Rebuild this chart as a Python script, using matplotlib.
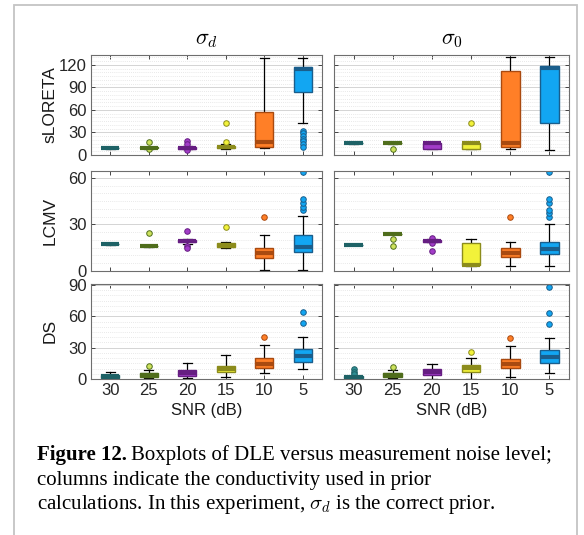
import matplotlib
matplotlib.use("Agg")
import matplotlib.pyplot as plt
from matplotlib.patches import Rectangle
from matplotlib.ticker import MultipleLocator

W, H = 584, 535

SNR_LABELS = ["30", "25", "20", "15", "10", "5"]
FACE = ["#2f8d92", "#79a332", "#a23cc8", "#f2f23a", "#ff7f27", "#12a6f2"]
EDGE = ["#1e6266", "#4f6d1c", "#661e82", "#8c8c1c", "#a94a10", "#1a5e8c"]
FLIER_FACE = ["#2f8d92", "#cde25c", "#a23cc8", "#f2f23a", "#ff7f27", "#12a6f2"]

# box statistics (DLE, mm)
SLORETA_D = dict(
    lo=[8.5, 8.5, 8, 8.5, 9, 43],
    q1=[9, 9, 8, 9, 10, 84],
    med=[9, 9.5, 9.5, 10, 17, 115],
    q3=[9.5, 10, 11, 12, 57, 117.5],
    hi=[10, 11, 12, 14, 129, 129],
    out=[[], [17, 7.5], [18, 15, 6.5], [17, 43], [], [32.4, 28.9, 25.3, 21.8, 18.2, 14.7, 11.1]],
)
SLORETA_0 = dict(
    lo=[15, 15, 7.5, 7.5, 8, 6],
    q1=[15.5, 15.5, 7.5, 8, 10, 42],
    med=[15.5, 15.5, 15.5, 15.5, 15.5, 116],
    q3=[16, 16, 16, 16, 112, 118],
    hi=[16, 16, 16.5, 16.5, 130, 130],
    out=[[], [7.5], [], [42], [], []],
)
LCMV_D = dict(
    lo=[17, 15.8, 17.5, 15, 0.5, 0.5],
    q1=[17.2, 16, 18.5, 15.5, 8.6, 12.5],
    med=[17.4, 16.1, 19.5, 16, 11.4, 15.3],
    q3=[17.6, 16.2, 20, 18.3, 14.6, 23],
    hi=[17.8, 16.4, 20.5, 18.5, 23, 35.5],
    out=[[], [24.3], [26, 16, 15], [28.6], [35], [39.4, 41.5, 44, 46.2, 63.7]],
)
LCMV_0 = dict(
    lo=[16.6, 23.6, 18.5, 3.5, 3.2, 3.2],
    q1=[16.7, 23.8, 19, 3.9, 8.8, 11],
    med=[16.8, 23.9, 19.6, 4, 11.8, 14.4],
    q3=[16.9, 24, 20.3, 18.3, 14.6, 18.9],
    hi=[17, 24.2, 20.8, 20.6, 18.5, 30],
    out=[[], [20.6, 16.1], [21, 17.8, 13], [], [34.6], [35, 37.2, 39.4, 43.7, 46.2, 63.7]],
)
DS_D = dict(
    lo=[0, 0.5, 0.6, 1.6, 5.4, 9.3],
    q1=[0.6, 2.2, 2.9, 7, 10.2, 16.6],
    med=[2.5, 4, 6, 9.9, 14, 22],
    q3=[3.8, 5.4, 8.6, 12.8, 19.8, 28.4],
    hi=[6.4, 8.6, 15, 23, 32.6, 40.5],
    out=[[], [12.5], [], [], [40.5], [53.3, 64.5]],
)
DS_0 = dict(
    lo=[0.8, 0.5, 0.2, 0.2, 2.2, 5.4],
    q1=[1, 2.2, 3.5, 7, 10.2, 15.6],
    med=[2, 4, 6.4, 10.2, 14, 20.8],
    q3=[2.8, 5.4, 9.3, 13.4, 18.8, 27.8],
    hi=[3.2, 8.6, 14.4, 20.4, 31.6, 39.6],
    out=[[9.3, 6.4, 4.5, 0.2], [11.8], [], [26.2], [39], [52.4, 63, 88.4]],
)

ROWS = [
    ("sLORETA", SLORETA_D, SLORETA_0, 133.3, [0, 30, 60, 90, 120], (55, 155)),
    ("LCMV", LCMV_D, LCMV_0, 64.5, [0, 30, 60], (171, 271)),
    ("DS", DS_D, DS_0, 91.4, [0, 30, 60, 90], (283.5, 379)),
]
COLS = [(91, 322), (334, 569)]


def to_stats(d):
    return [
        dict(whislo=d["lo"][i], q1=d["q1"][i], med=d["med"][i], q3=d["q3"][i],
             whishi=d["hi"][i], fliers=d["out"][i])
        for i in range(len(SNR_LABELS))
    ]


def draw_panel(ax, data, ymax, yticks, show_y, show_x):
    res = ax.bxp(
        to_stats(data), positions=range(1, 7), widths=0.48, patch_artist=True,
        capwidths=0.24,
        whiskerprops=dict(color="black", lw=0.9),
        capprops=dict(color="black", lw=0.9),
        medianprops=dict(lw=3.0, solid_capstyle="butt"),
        flierprops=dict(marker="o", markersize=4.0, markeredgewidth=0.7),
    )
    for i in range(6):
        res["boxes"][i].set_facecolor(FACE[i])
        res["boxes"][i].set_edgecolor(EDGE[i])
        res["boxes"][i].set_linewidth(1.0)
        res["boxes"][i].set_zorder(3)
        res["medians"][i].set_color(EDGE[i])
        res["medians"][i].set_zorder(4)
        res["fliers"][i].set_markerfacecolor(FLIER_FACE[i])
        res["fliers"][i].set_markeredgecolor(EDGE[i])

    ax.set_xlim(0.5, 6.5)
    ax.set_ylim(0, ymax)
    ax.set_yticks(yticks)
    ax.yaxis.set_minor_locator(MultipleLocator(5))
    ax.set_xticks(range(1, 7))
    ax.set_xticklabels(SNR_LABELS if show_x else [])
    if not show_y:
        ax.set_yticklabels([])
    for lab in ax.get_xticklabels() + ax.get_yticklabels():
        lab.set_family("Liberation Sans")
    ax.grid(axis="y", which="major", color="#d4d4d4", lw=0.7)
    ax.grid(axis="y", which="minor", color="#e2e2e2", lw=0.6, ls=(0, (1, 1.5)))
    ax.set_axisbelow(True)
    ax.tick_params(which="both", direction="in", top=True, right=True,
                   length=3, width=0.7, color="#444444", labelsize=12,
                   labelcolor="#262626", pad=3)
    ax.tick_params(which="minor", length=0)
    for sp in ax.spines.values():
        sp.set_color("#6e6e6e")
        sp.set_linewidth(0.8)


fig = plt.figure(figsize=(W / 100, H / 100), dpi=100)
plt.rcParams["mathtext.fontset"] = "cm"

for r, (name, dleft, dright, ymax, yticks, (ytop, ybot)) in enumerate(ROWS):
    for c, (x0, x1) in enumerate(COLS):
        ax = fig.add_axes([x0 / W, 1 - ybot / H, (x1 - x0) / W, (ybot - ytop) / H])
        draw_panel(ax, dleft if c == 0 else dright, ymax, yticks, c == 0, r == 2)
    fig.text(50 / W, 1 - (ytop + ybot) / 2 / H, name, rotation=90, ha="center",
             va="center", fontsize=12.5, family="Liberation Sans", color="#1a1a1a")

for (x0, x1), title in zip(COLS, [r"$\sigma_d$", r"$\sigma_0$"]):
    fig.text((x0 + x1) / 2 / W, 1 - 40 / H, title, ha="center", va="center", fontsize=16)
    fig.text((x0 + x1) / 2 / W, 1 - 411 / H, "SNR (dB)", ha="center", va="center",
             fontsize=12, family="Liberation Sans", color="#1a1a1a")

# page frame
fig.add_artist(Rectangle((14 / W, -0.05), (577 - 14) / W, 1.05 - 5 / H,
                         transform=fig.transFigure, fill=False, ec="#c4c4c4", lw=1.3))

# caption
cap_size = 15
cap_x = 37 / W
cap_y = [455, 480, 505]
bold = fig.text(cap_x, 1 - cap_y[0] / H, "Figure 12.", fontsize=cap_size, weight="bold",
                family="Liberation Serif", va="center")
fig.canvas.draw()
bb = bold.get_window_extent(renderer=fig.canvas.get_renderer())
fig.text(bb.x1 / W + 4 / W, 1 - cap_y[0] / H, "Boxplots of DLE versus measurement noise level;",
         fontsize=cap_size, family="Liberation Serif", va="center")
fig.text(cap_x, 1 - cap_y[1] / H, "columns indicate the conductivity used in prior",
         fontsize=cap_size, family="Liberation Serif", va="center")
fig.text(cap_x, 1 - cap_y[2] / H, r"calculations. In this experiment, $\sigma_d$ is the correct prior.",
         fontsize=cap_size, family="Liberation Serif", va="center")

fig.savefig("out.png", dpi=100)
